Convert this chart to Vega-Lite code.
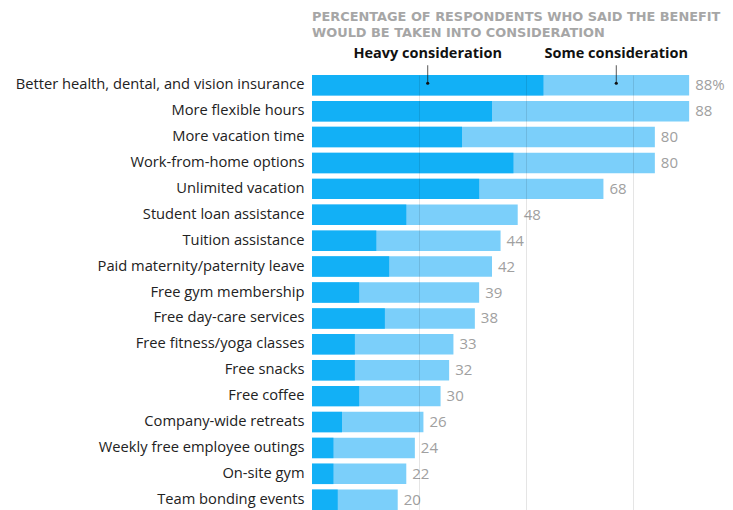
{
  "$schema": "https://vega.github.io/schema/vega-lite/v6.json",
  "autosize": "none",
  "padding": {"left": 312, "top": 75, "right": 1, "bottom": 0},
  "width": 420,
  "height": 435,
  "background": "white",
  "config": {
    "view": {"stroke": null},
    "font": "Open Sans"
  },
  "title": {
    "text": ["PERCENTAGE OF RESPONDENTS WHO SAID THE BENEFIT", "WOULD BE TAKEN INTO CONSIDERATION"],
    "anchor": "start",
    "frame": "group",
    "font": "DejaVu Sans",
    "fontSize": 12.9,
    "fontWeight": "bold",
    "color": "#a6a6a6",
    "lineHeight": 16,
    "offset": 6
  },
  "datasets": {
    "benefits": [
      {"benefit": "Better health, dental, and vision insurance", "heavy": 54, "total": 88, "label": "88%"},
      {"benefit": "More flexible hours", "heavy": 42, "total": 88, "label": "88"},
      {"benefit": "More vacation time", "heavy": 35, "total": 80, "label": "80"},
      {"benefit": "Work-from-home options", "heavy": 47, "total": 80, "label": "80"},
      {"benefit": "Unlimited vacation", "heavy": 39, "total": 68, "label": "68"},
      {"benefit": "Student loan assistance", "heavy": 22, "total": 48, "label": "48"},
      {"benefit": "Tuition assistance", "heavy": 15, "total": 44, "label": "44"},
      {"benefit": "Paid maternity/paternity leave", "heavy": 18, "total": 42, "label": "42"},
      {"benefit": "Free gym membership", "heavy": 11, "total": 39, "label": "39"},
      {"benefit": "Free day-care services", "heavy": 17, "total": 38, "label": "38"},
      {"benefit": "Free fitness/yoga classes", "heavy": 10, "total": 33, "label": "33"},
      {"benefit": "Free snacks", "heavy": 10, "total": 32, "label": "32"},
      {"benefit": "Free coffee", "heavy": 11, "total": 30, "label": "30"},
      {"benefit": "Company-wide retreats", "heavy": 7, "total": 26, "label": "26"},
      {"benefit": "Weekly free employee outings", "heavy": 5, "total": 24, "label": "24"},
      {"benefit": "On-site gym", "heavy": 5, "total": 22, "label": "22"},
      {"benefit": "Team bonding events", "heavy": 6, "total": 20, "label": "20"}
    ],
    "notes": [
      {"benefit": "Better health, dental, and vision insurance", "x": 27, "note": "Heavy consideration"},
      {"benefit": "Better health, dental, and vision insurance", "x": 71, "note": "Some consideration"}
    ]
  },
  "encoding": {
    "y": {
      "field": "benefit",
      "type": "nominal",
      "sort": null,
      "scale": {"paddingInner": 0.21, "paddingOuter": 0},
      "axis": {
        "title": null,
        "ticks": false,
        "domain": false,
        "labelPadding": 8,
        "labelFont": "Open Sans",
        "labelFontSize": 14.7,
        "labelColor": "#222222",
        "labelLimit": 320
      }
    }
  },
  "layer": [
    {
      "data": {"name": "benefits"},
      "mark": {"type": "bar", "color": "#7bcffa"},
      "encoding": {
        "x": {
          "field": "total",
          "type": "quantitative",
          "scale": {"domain": [0, 98], "nice": false},
          "axis": {
            "title": null,
            "values": [25, 50, 75],
            "labels": false,
            "ticks": false,
            "domain": false,
            "grid": true,
            "gridColor": "#000000",
            "gridOpacity": 0.1,
            "zindex": 1
          }
        }
      }
    },
    {
      "data": {"name": "benefits"},
      "mark": {"type": "bar", "color": "#12b0f6"},
      "encoding": {
        "x": {"field": "heavy", "type": "quantitative"}
      }
    },
    {
      "data": {"name": "benefits"},
      "mark": {"type": "text", "align": "left", "baseline": "middle", "dx": 6, "fontSize": 15, "color": "#a0a0a0"},
      "encoding": {
        "x": {"field": "total", "type": "quantitative"},
        "text": {"field": "label"}
      }
    },
    {
      "data": {"name": "notes"},
      "mark": {"type": "tick", "orient": "vertical", "color": "#111111", "thickness": 1, "size": 18, "yOffset": -11},
      "encoding": {
        "x": {"field": "x", "type": "quantitative"}
      }
    },
    {
      "data": {"name": "notes"},
      "mark": {"type": "point", "filled": true, "color": "#111111", "size": 10, "opacity": 1, "yOffset": -2},
      "encoding": {
        "x": {"field": "x", "type": "quantitative"}
      }
    },
    {
      "data": {"name": "notes"},
      "mark": {"type": "text", "align": "center", "baseline": "alphabetic", "dy": -27, "fontSize": 14.5, "fontWeight": "bold", "color": "#111111"},
      "encoding": {
        "x": {"field": "x", "type": "quantitative"},
        "text": {"field": "note"}
      }
    }
  ]
}
